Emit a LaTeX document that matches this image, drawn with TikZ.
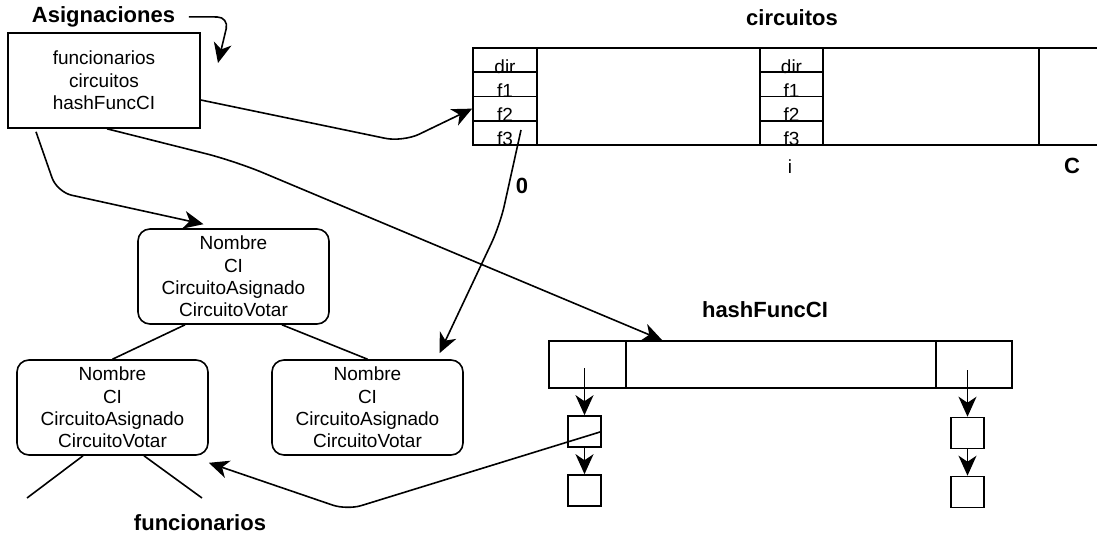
\documentclass[tikz,border=0pt]{standalone}
\usepackage{fontspec}
\setmainfont{Liberation Sans}
\usetikzlibrary{arrows.meta,calc}

\begin{document}
\begin{tikzpicture}[x=1pt,y=-1pt,
  line width=1.6pt,
  arr/.style={-{Stealth[length=20pt,width=18pt,inset=6pt]}},
  txt/.style={font=\fontsize{19}{22.3}\selectfont},
  heading/.style={font=\bfseries\fontsize{22}{26}\selectfont, anchor=base, inner sep=0},
  plainbox/.style={draw, txt, align=center, inner sep=0},
  recbox/.style={draw, txt, align=center, inner sep=0, rounded corners=12pt,
    minimum width=191pt, minimum height=95pt},
  cell/.style={draw, inner sep=0, minimum width=64pt, minimum height=24.25pt,
    label={[txt, anchor=base, inner sep=0]south:#1}},
  slot/.style={draw, inner sep=0, minimum height=47pt},
  chain/.style={draw, inner sep=0, minimum width=33pt, minimum height=31pt}
]
\useasboundingbox (0,0) rectangle (1097,535);

% record Asignaciones
\node[heading] (asigt) at (103.5,22.5) {Asignaciones};
\node[plainbox, minimum width=192pt, minimum height=95pt] (asig) at (104,80.5)
  {funcionarios\\circuitos\\hashFuncCI};

% array circuitos
\node[heading] (circt) at (792,26) {circuitos};
\draw (1100,48) -- (473,48) -- (473,145) -- (1100,145);
\draw (1039,48) -- (1039,145);
\node[cell=dir] (c0dir) at (505,60.125) {};
\node[cell=f1]  (c0f1)  at (505,84.375) {};
\node[cell=f2]  (c0f2)  at (505,108.625) {};
\node[cell=f3]  (c0f3)  at (505,132.875) {};
\node[cell=dir, minimum width=63pt] (cidir) at (791.5,60.125) {};
\node[cell=f1,  minimum width=63pt] (cif1)  at (791.5,84.375) {};
\node[cell=f2,  minimum width=63pt] (cif2)  at (791.5,108.625) {};
\node[cell=f3,  minimum width=63pt] (cif3)  at (791.5,132.875) {};
\node[txt, anchor=base, inner sep=0] (idx) at (790,173) {i};
\node[heading] (cap) at (1072,173) {C};
\node[heading] (zero) at (522,193) {0};

% tree funcionarios
\node[recbox] (top) at (233.5,276.5) {Nombre\\CI\\CircuitoAsignado\\CircuitoVotar};
\node[recbox] (lnode) at (112.5,407.5) {Nombre\\CI\\CircuitoAsignado\\CircuitoVotar};
\node[recbox] (rnode) at (367.5,407.5) {Nombre\\CI\\CircuitoAsignado\\CircuitoVotar};
\node[heading] (funct) at (200,530) {funcionarios};
\draw ([xshift=-48.5pt]top.south) -- (lnode.north);
\draw ([xshift=48.5pt]top.south) -- (rnode.north);
\coordinate (leafl) at (27,498);
\coordinate (leafr) at (202,498);
\draw ([xshift=-29.5pt]lnode.south) -- (leafl);
\draw ([xshift=31.5pt]lnode.south) -- (leafr);

% hash table hashFuncCI
\node[heading] (hasht) at (765,317) {hashFuncCI};
\node[slot, minimum width=77pt] (hl) at (587.5,364.5) {};
\node[slot, minimum width=310pt] (hmid) at (781,364.5) {};
\node[slot, minimum width=76pt] (hr) at (974,364.5) {};
\node[chain] (b1) at (584.5,431.5) {};
\node[chain] (b2) at (584.5,490.5) {};
\node[chain] (b3) at (967.5,433) {};
\node[chain] (b4) at (967.5,492) {};
\coordinate (h1) at (584.5,368);
\coordinate (h3) at (967.5,370);
\draw[arr] (h1) -- (b1.north);
\draw[arr] (b1.south) -- (b2.north);
\draw[arr] (h3) -- (b3.north);
\draw[arr] (b3.south) -- (b4.north);

% pointers
\coordinate (selfend) at (218,63);
\draw[arr, rounded corners=12pt] ([xshift=13pt]asigt.east) -- (229,17) -- (selfend);
\draw[arr, rounded corners=18pt] ([yshift=-19.5pt]asig.east) -- (403,142) -- (c0f2.west);
\draw[arr, rounded corners=15pt] ([xshift=-68pt,yshift=-3pt]asig.south) -- (57,192)
  -- ([xshift=-30pt,yshift=4pt]top.north);
\draw[arr, rounded corners=30pt] ([xshift=3pt]asig.south) -- (235,161)
  -- ([xshift=37pt]hmid.north west);
\coordinate (f3tail) at (521,130);
\draw[arr, rounded corners=20pt] (f3tail) -- (500,225)
  -- ([xshift=72pt,yshift=6pt]rnode.north);
\coordinate (b1tail) at (600,432);
\draw[arr, rounded corners=15pt] (b1tail) -- (347,510)
  -- ([yshift=-7pt]lnode.south east);
\end{tikzpicture}
\end{document}
